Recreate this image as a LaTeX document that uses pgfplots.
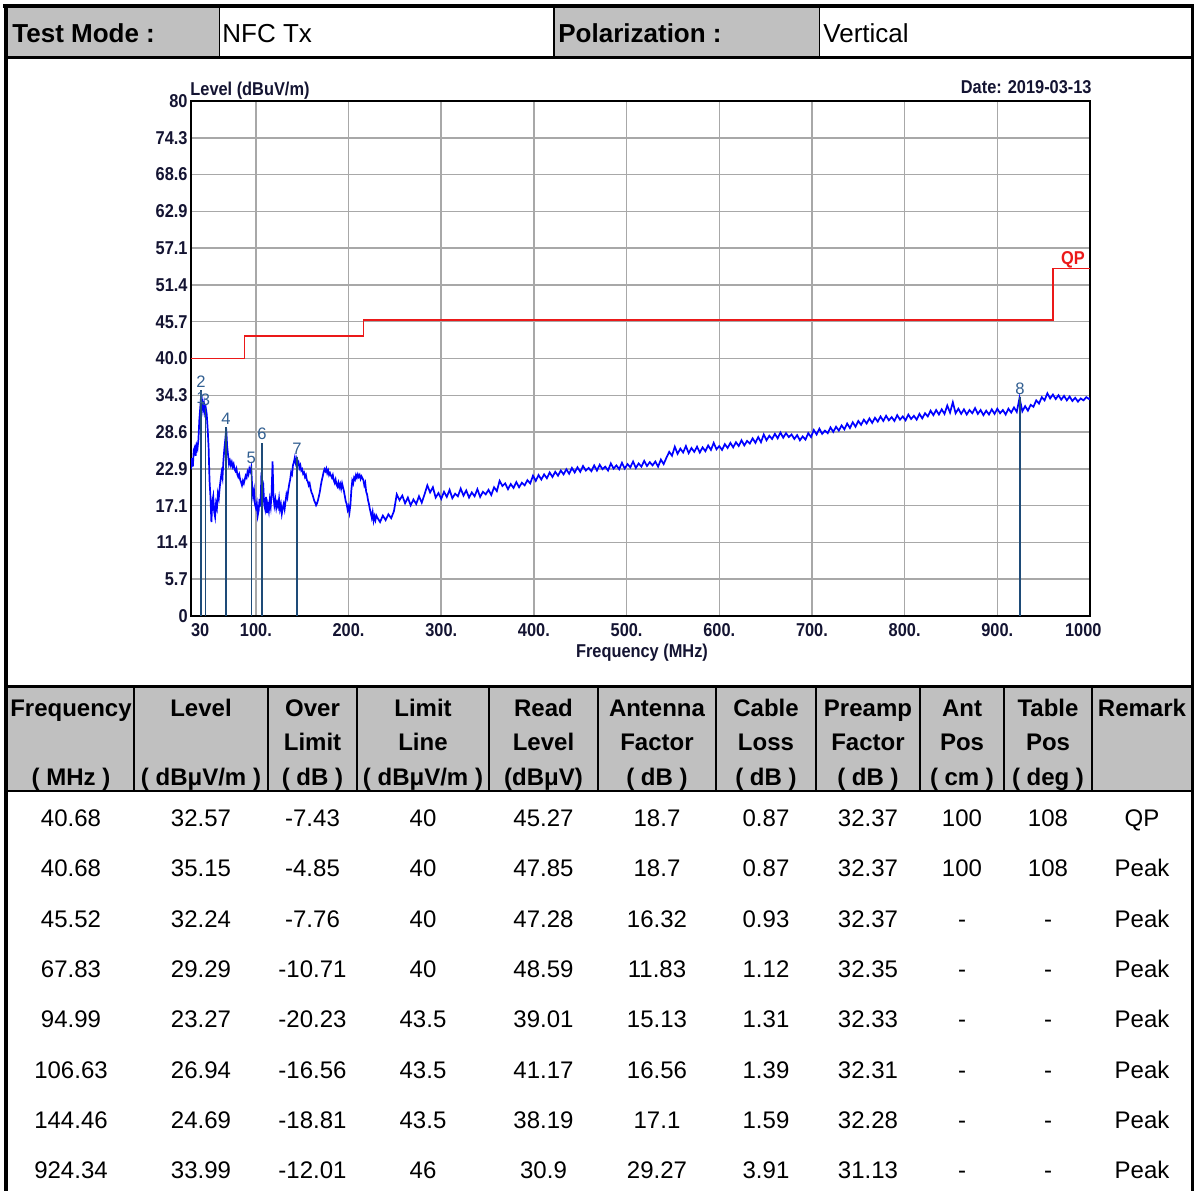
\documentclass[border=0pt]{standalone}
\usepackage{pgfplots}
\pgfplotsset{compat=1.18}
\usepackage{fontspec}
\setmainfont{Liberation Sans}
\newfontfamily\chartfont[FakeStretch=0.88]{Liberation Sans}
\definecolor{hdrgray}{RGB}{192,192,192}
\definecolor{gridgray}{RGB}{168,168,168}
\definecolor{tracecol}{RGB}{0,0,255}
\definecolor{limitcol}{RGB}{235,25,25}
\definecolor{mkline}{RGB}{30,75,120}
\definecolor{mklabel}{RGB}{50,95,145}
\definecolor{navy}{RGB}{20,20,50}

\pgfplotstableread{
f l
30 22.8
31 24.5
32 23.2
33 25.8
34 26.2
35 24.9
36 26.5
37 26.0
38 27.4
39 30.5
40 32.4
41 34.5
42 33.4
43 32.0
44 33.0
45 31.6
46 32.3
47 31.3
48 29.0
49 26.2
50 21.0
51 18.5
52 14.6
53 17.8
54 18.6
55 16.2
56 15.4
57 17.5
58 16.8
59 19.0
60 18.3
61 20.0
62 21.2
63 22.3
64 21.5
65 24.2
66 26.0
67 27.4
68 29.1
69 26.4
70 25.0
71 23.6
72 24.1
73 23.4
74 23.9
75 23.2
76 23.6
77 22.8
78 22.5
79 22.9
80 22.0
81 21.6
82 22.0
83 21.2
84 20.8
85 20.3
86 21.0
87 20.6
88 21.2
89 21.8
90 21.5
91 22.4
92 22.0
93 22.9
94 22.5
95 23.1
96 20.0
97 18.6
98 19.5
99 17.4
100 16.8
101 17.5
102 15.6
103 16.4
104 18.2
105 17.0
106 22.3
107 19.6
108 20.2
109 17.3
110 16.6
111 18.5
112 16.0
113 17.2
114 16.3
115 18.0
116 17.0
117 19.2
118 24.0
119 18.5
120 17.2
121 18.1
122 16.8
123 17.6
124 17.0
125 18.2
126 16.6
127 17.3
128 15.9
129 16.8
130 17.4
131 16.6
132 17.8
133 18.9
134 18.4
135 19.6
136 20.5
137 21.2
138 22.3
139 22.0
140 23.4
141 23.9
142 24.6
143 23.8
144 24.4
145 23.6
146 23.9
147 23.0
148 23.4
149 22.6
150 22.8
151 22.1
152 22.3
153 21.6
154 21.9
155 21.1
156 20.9
157 20.3
158 20.6
159 19.8
160 19.2
161 18.9
162 18.4
163 17.9
164 17.6
165 17.2
166 17.5
167 18.0
168 18.6
169 19.3
170 20.2
171 21.0
172 21.6
173 22.3
174 22.8
175 22.5
176 22.9
177 22.2
178 22.6
179 21.9
180 22.2
181 21.8
182 21.5
183 21.9
184 21.1
185 20.7
186 21.2
187 20.4
188 20.1
189 20.7
190 20.0
191 20.5
192 19.8
193 20.6
194 20.0
195 19.4
196 18.6
197 17.8
198 17.4
199 16.5
200 17.0
201 16.1
202 17.3
203 19.5
204 21.0
205 20.6
206 21.5
207 21.2
208 21.9
209 21.5
210 22.0
211 21.6
212 21.9
213 21.3
214 21.7
215 21.4
216 21.1
217 20.3
218 20.7
219 19.3
220 18.9
221 18.0
222 17.4
223 16.6
224 16.0
225 15.3
226 16.1
227 14.8
228 15.5
229 14.9
230 15.6
231 15.3
234 14.6
237 15.6
240 14.9
243 15.8
246 15.2
249 16.3
252 18.9
255 18.0
258 18.7
261 17.5
264 18.4
267 17.2
270 18.1
273 17.4
276 18.6
279 17.6
282 18.9
285 20.3
288 19.2
291 20.0
294 18.4
297 19.1
300 18.2
303 19.3
306 18.5
309 19.6
312 18.3
315 19.0
318 18.6
321 19.8
324 18.7
327 19.5
330 18.4
333 19.2
336 18.6
339 19.7
342 18.5
345 19.3
348 18.9
351 19.6
354 18.8
357 20.0
360 19.4
363 21.0
366 20.2
369 20.6
372 19.7
375 20.5
378 19.9
381 20.8
384 20.0
387 20.7
390 20.3
393 21.1
396 20.6
399 21.8
402 21.0
405 21.9
408 21.2
411 22.0
414 21.4
417 22.3
420 21.6
423 22.4
426 21.8
429 22.6
432 22.0
435 22.8
438 22.1
441 23.0
444 22.3
447 23.1
450 22.4
453 23.3
456 22.6
459 23.0
462 22.5
465 23.4
468 22.6
471 23.5
474 22.8
477 23.2
480 22.6
483 23.7
486 22.9
489 23.4
492 22.8
495 23.8
498 22.9
501 23.6
504 23.1
507 24.0
510 23.0
513 23.7
516 23.2
519 24.1
522 23.3
525 23.9
528 23.4
531 24.0
534 23.2
537 24.3
540 23.6
543 24.6
546 25.5
549 24.9
552 26.3
555 25.2
558 26.0
561 25.4
564 26.4
567 25.3
570 26.1
573 25.5
576 26.3
579 25.4
582 26.2
585 25.6
588 26.5
591 25.8
594 26.9
597 25.9
600 26.4
603 25.8
606 26.7
609 26.1
612 26.9
615 26.2
618 27.0
621 26.4
624 27.3
627 26.5
630 27.2
633 26.8
636 27.6
639 26.9
642 27.8
645 27.0
648 28.2
651 27.3
654 28.0
657 27.5
660 28.3
663 27.6
666 28.5
669 27.7
672 28.4
675 27.8
678 28.2
681 27.5
684 28.1
687 27.3
690 27.9
693 27.4
696 28.4
699 27.8
702 28.9
705 28.2
708 29.1
711 28.3
714 28.8
717 28.4
720 29.3
723 28.6
726 29.4
729 28.8
732 29.6
735 29.0
738 29.9
741 29.2
744 30.1
747 29.4
750 30.3
753 29.7
756 30.5
759 29.9
762 30.7
765 30.0
768 30.8
771 30.2
774 31.0
777 30.3
780 31.1
783 30.4
786 30.9
789 30.3
792 31.2
795 30.5
798 31.0
801 30.4
804 31.3
807 30.6
810 31.1
813 30.5
816 31.4
819 30.7
822 31.5
825 31.0
828 31.9
831 31.2
834 32.0
837 31.3
840 32.1
843 31.4
846 32.7
849 31.6
852 33.2
855 31.5
858 32.2
861 31.4
864 32.1
867 31.3
870 32.0
873 31.5
876 32.3
879 31.4
882 32.0
885 31.2
888 31.9
891 31.3
894 32.1
897 31.4
900 32.2
903 31.5
906 32.0
909 31.3
912 32.2
915 31.6
918 32.4
921 31.7
924 33.9
927 31.8
930 32.6
933 31.9
936 32.8
939 32.5
942 33.5
945 33.0
948 34.0
951 33.5
954 34.6
957 33.8
960 34.4
963 33.7
966 34.3
969 33.6
972 34.2
975 33.5
978 34.1
981 33.4
984 33.9
987 33.3
990 33.8
993 33.5
996 34.0
999 33.7
1000 33.9
}\trace

\pgfplotstableread{
f l lab
40.68 35.15 2
40.68 32.57 1
45.52 32.24 3
67.83 29.29 4
94.99 23.27 5
106.63 26.94 6
144.46 24.69 7
924.34 33.99 8
}\markers

\begin{document}
\begin{tikzpicture}[x=0.5pt,y=-0.5pt]
\path[use as bounding box] (0,0) rectangle (1195,1191);

% top header row
\fill[hdrgray] (8,8) rectangle (219,57);
\fill[hdrgray] (555,8) rectangle (819,57);
\draw[line width=0.6pt] (219.5,8) -- (219.5,57);
\draw[line width=0.6pt] (554,8) -- (554,57);
\draw[line width=0.6pt] (819.5,8) -- (819.5,57);
\begin{scope}[every node/.style={anchor=base west,inner sep=0pt}]
\node[font=\bfseries\fontsize{13}{15}\selectfont] at (12,42) {Test Mode :};
\node[font=\fontsize{13}{15}\selectfont] at (222,42) {NFC Tx};
\node[font=\bfseries\fontsize{13}{15}\selectfont] at (558,42) {Polarization :};
\node[font=\fontsize{13}{15}\selectfont] at (823,42) {Vertical};
\end{scope}

% table header
\fill[hdrgray] (8,687) rectangle (1191,790);
\foreach \x in {134,268,357,489,598,716,816,920,1004,1092}
  \draw[line width=0.9pt] (\x,687) -- (\x,790);
\begin{scope}[every node/.style={anchor=base,font=\bfseries\fontsize{12}{14}\selectfont,inner sep=0pt}]
\node at (71,716) {Frequency};
\node at (71,785) {( MHz )};
\node at (201,716) {Level};
\node at (201,785) {( dBμV/m )};
\node at (312.5,716) {Over};
\node at (312.5,750) {Limit};
\node at (312.5,785) {( dB )};
\node at (423,716) {Limit};
\node at (423,750) {Line};
\node at (423,785) {( dBμV/m )};
\node at (543.5,716) {Read};
\node at (543.5,750) {Level};
\node at (543.5,785) {(dBμV)};
\node at (657,716) {Antenna};
\node at (657,750) {Factor};
\node at (657,785) {( dB )};
\node at (766,716) {Cable};
\node at (766,750) {Loss};
\node at (766,785) {( dB )};
\node at (868,716) {Preamp};
\node at (868,750) {Factor};
\node at (868,785) {( dB )};
\node at (962,716) {Ant};
\node at (962,750) {Pos};
\node at (962,785) {( cm )};
\node at (1048,716) {Table};
\node at (1048,750) {Pos};
\node at (1048,785) {( deg )};
\node at (1142,716) {Remark};
\end{scope}

% table body
\begin{scope}[every node/.style={anchor=base,font=\fontsize{12}{14}\selectfont,inner sep=0pt}]
\foreach \y/\a/\b/\c/\d/\e/\f/\g/\h/\i/\j/\k in {
  826.5/40.68/32.57/-7.43/40/45.27/18.7/0.87/32.37/100/108/QP,
  876.8/40.68/35.15/-4.85/40/47.85/18.7/0.87/32.37/100/108/Peak,
  927.1/45.52/32.24/-7.76/40/47.28/16.32/0.93/32.37/-/-/Peak,
  977.4/67.83/29.29/-10.71/40/48.59/11.83/1.12/32.35/-/-/Peak,
  1027.7/94.99/23.27/-20.23/43.5/39.01/15.13/1.31/32.33/-/-/Peak,
  1078.0/106.63/26.94/-16.56/43.5/41.17/16.56/1.39/32.31/-/-/Peak,
  1128.3/144.46/24.69/-18.81/43.5/38.19/17.1/1.59/32.28/-/-/Peak,
  1178.6/924.34/33.99/-12.01/46/30.9/29.27/3.91/31.13/-/-/Peak}{
  \node at (71,\y) {\a};
  \node at (201,\y) {\b};
  \node at (312.5,\y) {\c};
  \node at (423,\y) {\d};
  \node at (543.5,\y) {\e};
  \node at (657,\y) {\f};
  \node at (766,\y) {\g};
  \node at (868,\y) {\h};
  \node at (962,\y) {\i};
  \node at (1048,\y) {\j};
  \node at (1142,\y) {\k};
}
\end{scope}

% frame lines
\draw[line width=2pt] (3,6) -- (1194,6);
\draw[line width=2pt] (6,4) -- (6,1191);
\draw[line width=1.5pt] (1192,4) -- (1192,1191);
\draw[line width=1.7pt] (6,57.5) -- (1192,57.5);
\draw[line width=1.5pt] (6,686) -- (1192,686);
\draw[line width=1.2pt] (6,791) -- (1192,791);

% chart texts
\node[anchor=base west,text=navy,font=\chartfont\bfseries\fontsize{9.3}{11}\selectfont,inner sep=0pt] at (190,95.5) {Level (dBuV/m)};
\node[anchor=base east,text=navy,font=\chartfont\bfseries\fontsize{9.3}{11}\selectfont,inner sep=0pt] at (1092,93.5) {Date: 2019-03-13};
\node[anchor=base,text=navy,font=\chartfont\bfseries\fontsize{9.3}{11}\selectfont,inner sep=0pt] at (642,657.5) {Frequency (MHz)};
\node[anchor=base,text=limitcol,font=\chartfont\bfseries\fontsize{9.3}{11}\selectfont,inner sep=0pt] at (1073,264.5) {QP};

\begin{axis}[
  at={(95.5pt,-308pt)}, anchor=south west,
  scale only axis, width=449.5pt, height=257.5pt,
  xmin=30, xmax=1000, ymin=0, ymax=80,
  xtick={30,100,200,300,400,500,600,700,800,900,1000},
  xticklabels={\makebox[0pt][l]{30},100.,200.,300.,400.,500.,600.,700.,800.,900.,\makebox[0pt]{1000\hspace{6.7pt}}},
  ytick={0,5.7143,11.4286,17.1429,22.8571,28.5714,34.2857,40,45.7143,51.4286,57.1429,62.8571,68.5714,74.2857,80},
  yticklabels={0,5.7,11.4,17.1,22.9,28.6,34.3,40.0,45.7,51.4,57.1,62.9,68.6,74.3,80},
  major tick length=0pt,
  grid=major,
  grid style={gridgray, line width=0.75pt},
  axis line style={black, line width=0.7pt},
  ticklabel style={text=navy, font=\chartfont\bfseries\fontsize{9.3}{11}\selectfont},
  xticklabel style={anchor=north, inner sep=0pt, yshift=-3.5pt},
  yticklabel style={anchor=east, inner sep=0pt, xshift=-1.5pt},
  clip=true,
]
\addplot[limitcol, line width=0.7pt] coordinates {
  (30,40) (88,40) (88,43.5) (216,43.5) (216,46) (960,46) (960,54) (1000,54)
};
\addplot[tracecol, line width=0.85pt] table[x=f,y=l] {\trace};
\addplot[ycomb, mkline, line width=0.7pt,
  nodes near coords, point meta=explicit symbolic,
  nodes near coords style={text=mklabel, anchor=south, inner sep=1pt,
    font=\fontsize{8.3}{9}\selectfont}]
  table[x=f,y=l,meta=lab] {\markers};
\end{axis}
\end{tikzpicture}
\end{document}
